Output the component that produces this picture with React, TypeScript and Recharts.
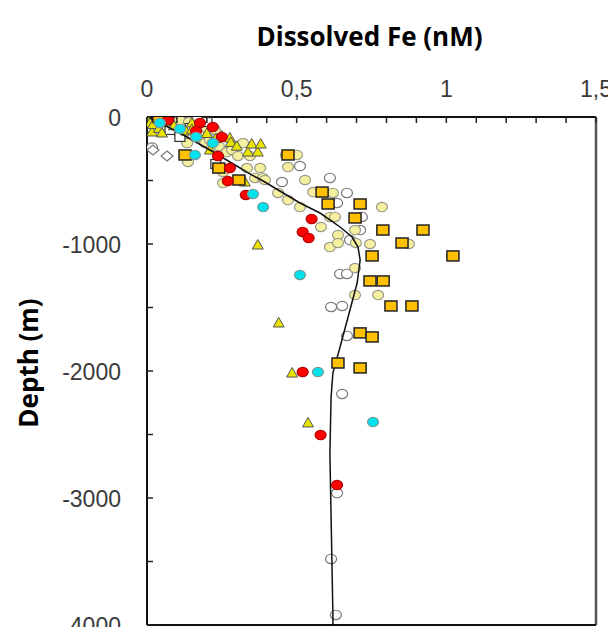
import {
  ScatterChart,
  Scatter,
  XAxis,
  YAxis,
  ReferenceLine,
} from 'recharts';

// tick values
const xTicks = [0, 0.1, 0.2, 0.3, 0.4, 0.5, 0.6, 0.7, 0.8, 0.9, 1, 1.1, 1.2, 1.3, 1.4, 1.5];
const yTicks = [0, -500, -1000, -1500, -2000, -2500, -3000, -3500, -4000];

// x = dissolved Fe (nM), y = depth (m)
const paleYellow = [
  { x: 0.03, y: -40 }, { x: 0.037, y: -8 }, { x: 0.07, y: -90 }, { x: 0.077, y: -63 },
  { x: 0.094, y: -102 }, { x: 0.1, y: -60 }, { x: 0.11, y: -24 }, { x: 0.12, y: -140 },
  { x: 0.134, y: -205 }, { x: 0.137, y: -354 }, { x: 0.16, y: -63 }, { x: 0.17, y: -157 },
  { x: 0.18, y: -120 }, { x: 0.194, y: -205 }, { x: 0.21, y: -180 }, { x: 0.217, y: -244 },
  { x: 0.227, y: -102 }, { x: 0.24, y: -230 }, { x: 0.254, y: -433 }, { x: 0.254, y: -520 },
  { x: 0.267, y: -276 }, { x: 0.284, y: -260 }, { x: 0.304, y: -307 }, { x: 0.321, y: -205 },
  { x: 0.334, y: -402 }, { x: 0.344, y: -307 }, { x: 0.361, y: -480 }, { x: 0.378, y: -402 },
  { x: 0.388, y: -480 }, { x: 0.394, y: -496 }, { x: 0.438, y: -598 }, { x: 0.464, y: -299 },
  { x: 0.471, y: -394 }, { x: 0.471, y: -654 }, { x: 0.501, y: -299 }, { x: 0.511, y: -709 },
  { x: 0.528, y: -496 }, { x: 0.555, y: -591 }, { x: 0.581, y: -866 }, { x: 0.611, y: -787 },
  { x: 0.628, y: -787 }, { x: 0.621, y: -598 }, { x: 0.638, y: -929 }, { x: 0.695, y: -890 },
  { x: 0.611, y: -1024 }, { x: 0.638, y: -992 }, { x: 0.698, y: -992 }, { x: 0.745, y: -1000 },
  { x: 0.785, y: -709 }, { x: 0.875, y: -1000 }, { x: 0.695, y: -1189 }, { x: 0.695, y: -1402 },
  { x: 0.772, y: -1402 }, { x: 0.05, y: -20 }, { x: 0.14, y: -40 }, { x: 0.2, y: -90 },
];

const whiteCircles = [
  { x: 0.017, y: -240 }, { x: 0.17, y: -5 }, { x: 0.511, y: -386 }, { x: 0.451, y: -512 },
  { x: 0.611, y: -480 }, { x: 0.668, y: -598 }, { x: 0.635, y: -677 }, { x: 0.718, y: -787 },
  { x: 0.712, y: -890 }, { x: 0.678, y: -969 }, { x: 0.645, y: -1236 }, { x: 0.668, y: -1236 },
  { x: 0.615, y: -1496 }, { x: 0.652, y: -1488 }, { x: 0.668, y: -1724 }, { x: 0.652, y: -2181 },
  { x: 0.635, y: -2961 }, { x: 0.615, y: -3480 }, { x: 0.631, y: -3921 },
];

const whiteDiamonds = [{ x: 0.02, y: -260 }, { x: 0.067, y: -307 }];

const whiteSquares = [
  { x: 0.07, y: -3 }, { x: 0.077, y: -102 }, { x: 0.11, y: -157 }, { x: 0.144, y: -87 },
  { x: 0.2, y: -40 }, { x: 0.23, y: -370 },
];

const triangles = [
  { x: 0.005, y: -30 }, { x: 0.01, y: -47 }, { x: 0.017, y: -118 }, { x: 0.02, y: -60 },
  { x: 0.04, y: -90 }, { x: 0.05, y: -126 }, { x: 0.06, y: -40 }, { x: 0.09, y: -70 },
  { x: 0.13, y: -110 }, { x: 0.15, y: -47 }, { x: 0.15, y: -100 }, { x: 0.2, y: -130 },
  { x: 0.21, y: -260 }, { x: 0.23, y: -170 }, { x: 0.25, y: -150 }, { x: 0.277, y: -165 },
  { x: 0.28, y: -200 }, { x: 0.3, y: -230 }, { x: 0.337, y: -276 }, { x: 0.35, y: -213 },
  { x: 0.37, y: -276 }, { x: 0.38, y: -213 }, { x: 0.327, y: -512 }, { x: 0.37, y: -1008 },
  { x: 0.44, y: -1622 }, { x: 0.485, y: -2016 }, { x: 0.538, y: -2409 },
];

const goldSquares = [
  { x: 0.04, y: -5 }, { x: 0.127, y: -299 }, { x: 0.24, y: -402 }, { x: 0.307, y: -496 },
  { x: 0.471, y: -299 }, { x: 0.585, y: -591 }, { x: 0.605, y: -685 }, { x: 0.712, y: -685 },
  { x: 0.695, y: -795 }, { x: 0.788, y: -890 }, { x: 0.922, y: -890 }, { x: 0.852, y: -992 },
  { x: 0.752, y: -1094 }, { x: 1.022, y: -1094 }, { x: 0.745, y: -1291 }, { x: 0.789, y: -1291 },
  { x: 0.815, y: -1488 }, { x: 0.885, y: -1488 }, { x: 0.712, y: -1700 }, { x: 0.752, y: -1732 },
  { x: 0.638, y: -1937 }, { x: 0.712, y: -1976 },
];

const redCircles = [
  { x: 0.07, y: -24 }, { x: 0.177, y: -47 }, { x: 0.22, y: -79 }, { x: 0.164, y: -110 },
  { x: 0.25, y: -157 }, { x: 0.237, y: -307 }, { x: 0.277, y: -402 }, { x: 0.27, y: -504 },
  { x: 0.33, y: -614 }, { x: 0.55, y: -803 }, { x: 0.52, y: -905 }, { x: 0.54, y: -953 },
  { x: 0.52, y: -2008 }, { x: 0.58, y: -2504 }, { x: 0.635, y: -2898 },
];

const cyanCircles = [
  { x: 0.043, y: -47 }, { x: 0.11, y: -94 }, { x: 0.164, y: -157 }, { x: 0.22, y: -205 },
  { x: 0.16, y: -299 }, { x: 0.354, y: -606 }, { x: 0.388, y: -709 }, { x: 0.511, y: -1244 },
  { x: 0.571, y: -2008 }, { x: 0.755, y: -2402 },
];

// model profile
const profile = [
  { x: 0.01, y: -8 }, { x: 0.11, y: -126 }, { x: 0.21, y: -260 }, { x: 0.294, y: -378 },
  { x: 0.351, y: -457 }, { x: 0.388, y: -504 }, { x: 0.511, y: -677 }, { x: 0.578, y: -756 },
  { x: 0.645, y: -866 }, { x: 0.685, y: -945 }, { x: 0.705, y: -1024 }, { x: 0.712, y: -1126 },
  { x: 0.702, y: -1307 }, { x: 0.678, y: -1520 }, { x: 0.645, y: -1811 }, { x: 0.621, y: -2016 },
  { x: 0.615, y: -2205 }, { x: 0.611, y: -2646 }, { x: 0.615, y: -3150 }, { x: 0.621, y: -3906 },
  { x: 0.621, y: -4000 },
];

const tickFont = { fontFamily: 'Liberation Sans, Arial, sans-serif', fontSize: 23, fill: '#3a3a3a' };
const titleFont = { fontFamily: 'Open Sans, sans-serif', fontSize: 26, fontWeight: 700, fill: '#000' };

const XTick = (props: any) => {
  const { x, y, payload } = props;
  const v = payload.value;
  const major = Math.abs(v * 2 - Math.round(v * 2)) < 1e-6;
  return (
    <g>
      <line x1={x} y1={y} x2={x} y2={y + 6} stroke="#222" strokeWidth={1.5} />
      {major && (
        <text x={x} y={y - 20} textAnchor="middle" {...tickFont}>
          {String(v).replace('.', ',')}
        </text>
      )}
    </g>
  );
};

const YTick = (props: any) => {
  const { x, y, payload } = props;
  const v = payload.value;
  const major = v % 1000 === 0;
  return (
    <g>
      <line x1={x} y1={y} x2={x + 6} y2={y} stroke="#222" strokeWidth={1.5} />
      {major && (
        <text x={x - 26} y={y + 9} textAnchor="end" {...tickFont}>
          {v}
        </text>
      )}
    </g>
  );
};

const Ellipse = (fill: string, stroke: string) => (p: any) =>
  <ellipse cx={p.cx} cy={p.cy} rx={5.5} ry={4.7} fill={fill} stroke={stroke} strokeWidth={1.2} />;

const GoldSquare = (p: any) =>
  <rect x={p.cx - 6} y={p.cy - 5} width={12} height={10} fill="#FFC000" stroke="#222" strokeWidth={1.5} />;

const WhiteSquare = (p: any) =>
  <rect x={p.cx - 5} y={p.cy - 4.5} width={10} height={9} fill="#fff" stroke="#333" strokeWidth={1.2} />;

const Triangle = (p: any) =>
  <polygon
    points={`${p.cx},${p.cy - 5.5} ${p.cx + 5.5},${p.cy + 4} ${p.cx - 5.5},${p.cy + 4}`}
    fill="#E8E400"
    stroke="#555"
    strokeWidth={1}
  />;

const Diamond = (p: any) =>
  <polygon
    points={`${p.cx},${p.cy - 5} ${p.cx + 6},${p.cy} ${p.cx},${p.cy + 5} ${p.cx - 6},${p.cy}`}
    fill="#fff"
    stroke="#777"
    strokeWidth={1.2}
  />;

const NoShape = () => <g />;

export default function App() {
  return (
    <div style={{ width: 608, height: 619 }}>
      <ScatterChart width={608} height={619} margin={{ top: 0, right: 20, bottom: 2, left: 0 }}>
        <XAxis
          type="number"
          dataKey="x"
          orientation="top"
          domain={[0, 1.5]}
          ticks={xTicks}
          interval={0}
          height={109}
          tickSize={0}
          tickMargin={0}
          tickLine={false}
          tick={<XTick />}
          axisLine={{ stroke: '#111', strokeWidth: 2 }}
          allowDataOverflow
          label={{
            content: (lp: any) => {
              const vb = lp.viewBox;
              return (
                <text x={vb.x + vb.width / 2 - 2} y={38} textAnchor="middle" {...titleFont}>
                  Dissolved Fe (nM)
                </text>
              );
            },
          }}
        />
        <YAxis
          type="number"
          dataKey="y"
          domain={[-4000, 0]}
          ticks={yTicks}
          interval={0}
          width={139}
          tickSize={0}
          tickMargin={0}
          tickLine={false}
          tick={<YTick />}
          axisLine={{ stroke: '#111', strokeWidth: 2 }}
          allowDataOverflow
          label={{
            content: (lp: any) => {
              const vb = lp.viewBox;
              const cy = vb.y + vb.height / 2 - 8;
              return (
                <text
                  x={20}
                  y={cy}
                  textAnchor="middle"
                  dominantBaseline="central"
                  transform={`rotate(-90, 20, ${cy})`}
                  {...titleFont}
                >
                  Depth (m)
                </text>
              );
            },
          }}
        />
        {/* frame: right and bottom edges */}
        <ReferenceLine x={1.5} stroke="#555" strokeWidth={2.5} ifOverflow="visible" />
        <ReferenceLine y={-4000} stroke="#111" strokeWidth={2} ifOverflow="visible" />
        <Scatter data={whiteCircles} shape={Ellipse('#fff', '#777')} isAnimationActive={false} />
        <Scatter data={paleYellow} shape={Ellipse('#F5EFA0', '#9a9a8a')} isAnimationActive={false} />
        <Scatter data={whiteDiamonds} shape={Diamond} isAnimationActive={false} />
        <Scatter data={whiteSquares} shape={WhiteSquare} isAnimationActive={false} />
        <Scatter data={triangles} shape={Triangle} isAnimationActive={false} />
        <Scatter
          data={profile}
          line={{ stroke: '#111', strokeWidth: 1.5 }}
          shape={NoShape}
          isAnimationActive={false}
        />
        <Scatter data={goldSquares} shape={GoldSquare} isAnimationActive={false} />
        <Scatter data={redCircles} shape={Ellipse('#FF0000', '#b00000')} isAnimationActive={false} />
        <Scatter data={cyanCircles} shape={Ellipse('#00E3EE', '#7a9a9a')} isAnimationActive={false} />
      </ScatterChart>
    </div>
  );
}
